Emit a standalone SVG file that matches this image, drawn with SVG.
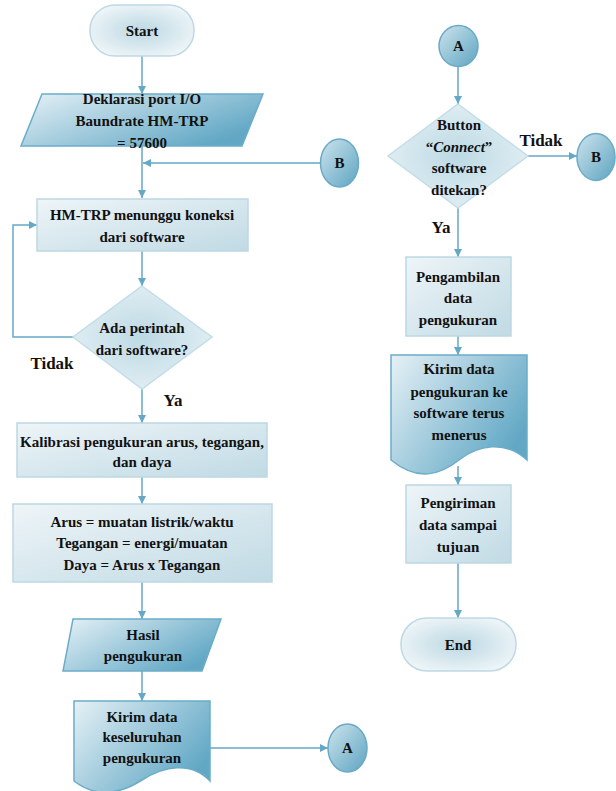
<svg xmlns="http://www.w3.org/2000/svg" width="616" height="791" viewBox="0 0 616 791" font-family="'Times New Roman', 'Liberation Serif', 'DejaVu Serif', serif">
<defs>
  <linearGradient id="gProc" x1="0" y1="0" x2="1" y2="1">
    <stop offset="0" stop-color="#eef5f8"/>
    <stop offset="1" stop-color="#c0dae4"/>
  </linearGradient>
  <linearGradient id="gIO" x1="0" y1="0" x2="1" y2="0.6">
    <stop offset="0" stop-color="#e6f1f6"/>
    <stop offset="1" stop-color="#62a8c5"/>
  </linearGradient>
  <radialGradient id="gDec" cx="0.5" cy="0.5" r="0.6">
    <stop offset="0" stop-color="#bcd9e4"/>
    <stop offset="1" stop-color="#e6f1f5"/>
  </radialGradient>
  <radialGradient id="gTerm" cx="0.5" cy="0.5" r="0.6">
    <stop offset="0" stop-color="#bcd8e3"/>
    <stop offset="1" stop-color="#f1f7f9"/>
  </radialGradient>
  <linearGradient id="gCirc" x1="0" y1="0" x2="1" y2="1">
    <stop offset="0" stop-color="#cde4ed"/>
    <stop offset="1" stop-color="#5ea4c1"/>
  </linearGradient>
  <marker id="arr" viewBox="0 0 10 10" refX="10" refY="5" markerWidth="8" markerHeight="8" orient="auto" markerUnits="userSpaceOnUse">
    <path d="M0,0 L10,5 L0,10 Z" fill="#63a8c5"/>
  </marker>
  <style>
    text { font-weight: bold; fill: #111; text-anchor: middle; }
    .t { font-size: 15px; }
    .lbl { font-size: 17px; }
    .proc { fill: url(#gProc); stroke: #bcd8e3; stroke-width: 1.5; }
    .io { fill: url(#gIO); stroke: #6badc9; stroke-width: 1.5; }
    .dec { fill: url(#gDec); stroke: #c3dde7; stroke-width: 1.5; }
    .term { fill: url(#gTerm); stroke: #bdd9e4; stroke-width: 1.5; }
    .circ { fill: url(#gCirc); stroke: #6aaac6; stroke-width: 1.5; }
    .c { fill: none; stroke: #65a9c6; stroke-width: 1.5; marker-end: url(#arr); }
  </style>
</defs>

<g id="connectors">
  <line class="c" x1="142" y1="56" x2="142" y2="94"/>
  <line class="c" x1="142" y1="146" x2="142" y2="198"/>
  <line class="c" x1="320" y1="163" x2="143" y2="163"/>
  <line class="c" x1="142" y1="251" x2="142" y2="286"/>
  <polyline class="c" points="73,337 13,337 13,225 37,225"/>
  <line class="c" x1="142" y1="389" x2="142" y2="423"/>
  <line class="c" x1="142" y1="477" x2="142" y2="504"/>
  <line class="c" x1="142" y1="582" x2="142" y2="619"/>
  <line class="c" x1="142" y1="671" x2="142" y2="701"/>
  <line class="c" x1="210" y1="748" x2="328" y2="748"/>
  <line class="c" x1="458" y1="66" x2="458" y2="104"/>
  <line class="c" x1="528" y1="156" x2="577" y2="156"/>
  <line class="c" x1="458" y1="208" x2="458" y2="257"/>
  <line class="c" x1="458" y1="336" x2="458" y2="355"/>
  <line class="c" x1="458" y1="466" x2="458" y2="485"/>
  <line class="c" x1="458" y1="563" x2="458" y2="618"/>
</g>

<g id="start">
  <rect class="term" x="90" y="5" width="104" height="51" rx="25" ry="25"/>
  <text class="t" x="142" y="36">Start</text>
</g>

<g id="deklarasi">
  <polygon class="io" points="42,94 263,94 242,146 21,146"/>
  <text class="t" x="142" y="104">Deklarasi port I/O</text>
  <text class="t" x="142" y="126">Baundrate HM-TRP</text>
  <text class="t" x="142" y="148">= 57600</text>
</g>

<g id="connB1">
  <ellipse class="circ" cx="339.5" cy="163" rx="19" ry="24"/>
  <text class="t" x="339.5" y="168">B</text>
</g>

<g id="menunggu">
  <rect class="proc" x="37" y="199" width="211" height="52"/>
  <text class="t" x="142" y="220">HM-TRP menunggu koneksi</text>
  <text class="t" x="142" y="242">dari software</text>
</g>

<g id="perintah">
  <polygon class="dec" points="142,286 212,337 142,389 73,337"/>
  <text class="t" x="142" y="333">Ada perintah</text>
  <text class="t" x="142" y="355">dari software?</text>
  <text class="lbl" x="52" y="369">Tidak</text>
  <text class="lbl" x="173" y="406">Ya</text>
</g>

<g id="kalibrasi">
  <rect class="proc" x="17" y="423" width="250" height="54"/>
  <text class="t" x="142" y="447">Kalibrasi pengukuran arus, tegangan,</text>
  <text class="t" x="142" y="467">dan daya</text>
</g>

<g id="rumus">
  <rect class="proc" x="13" y="504" width="259" height="78"/>
  <text class="t" x="142" y="527">Arus = muatan listrik/waktu</text>
  <text class="t" x="142" y="548">Tegangan = energi/muatan</text>
  <text class="t" x="142" y="570">Daya = Arus x Tegangan</text>
</g>

<g id="hasil">
  <polygon class="io" points="73,619 221,619 202,671 63,671"/>
  <text class="t" x="143" y="640">Hasil</text>
  <text class="t" x="143" y="661">pengukuran</text>
</g>

<g id="kirimKeseluruhan">
  <path class="io" d="M74,701 H210 V781 C191,761 164,766 142,780 C120,794 96,798 74,781 Z"/>
  <text class="t" x="142" y="722">Kirim data</text>
  <text class="t" x="142" y="742">keseluruhan</text>
  <text class="t" x="142" y="763">pengukuran</text>
</g>

<g id="connA1">
  <ellipse class="circ" cx="347.5" cy="748" rx="19.5" ry="24"/>
  <text class="t" x="347.5" y="753">A</text>
</g>

<g id="connA2">
  <ellipse class="circ" cx="458.5" cy="46" rx="19.5" ry="20.5"/>
  <text class="t" x="458.5" y="51">A</text>
</g>

<g id="button">
  <polygon class="dec" points="458,104 528,156 458,208 388,156"/>
  <text class="t" x="459" y="130">Button</text>
  <text class="t" x="459" y="152">“<tspan font-style="italic">Connect</tspan>”</text>
  <text class="t" x="459" y="173">software</text>
  <text class="t" x="459" y="195">ditekan?</text>
  <text class="lbl" x="541" y="146">Tidak</text>
  <text class="lbl" x="441" y="233">Ya</text>
</g>

<g id="connB2">
  <ellipse class="circ" cx="596" cy="157" rx="19" ry="23.5"/>
  <text class="t" x="596" y="162">B</text>
</g>

<g id="pengambilan">
  <rect class="proc" x="406" y="257" width="105" height="79"/>
  <text class="t" x="458" y="282">Pengambilan</text>
  <text class="t" x="458" y="303">data</text>
  <text class="t" x="458" y="325">pengukuran</text>
</g>

<g id="kirimTerus">
  <path class="io" d="M391,355 H527 V460 C505,440 478,445 459,460 C440,475 418,482 391,460 Z"/>
  <text class="t" x="459" y="374">Kirim data</text>
  <text class="t" x="459" y="397">pengukuran ke</text>
  <text class="t" x="459" y="418">software terus</text>
  <text class="t" x="459" y="440">menerus</text>
</g>

<g id="pengiriman">
  <rect class="proc" x="406" y="485" width="105" height="78"/>
  <text class="t" x="458" y="508">Pengiriman</text>
  <text class="t" x="458" y="530">data sampai</text>
  <text class="t" x="458" y="552">tujuan</text>
</g>

<g id="end">
  <rect class="term" x="401" y="618" width="115" height="53" rx="26" ry="26"/>
  <text class="t" x="458" y="650">End</text>
</g>
</svg>
